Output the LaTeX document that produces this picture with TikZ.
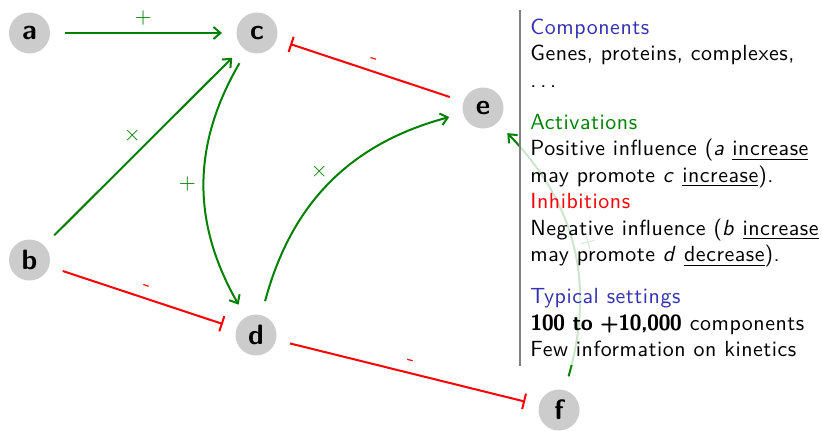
\documentclass[tikz,border=0pt]{standalone}
\usepackage{fontspec}
\usetikzlibrary{arrows.meta}
\newfontfamily\infofont{lmsans10-regular.otf}[ItalicFont=lmsans10-oblique.otf, LetterSpace=2.5]
\newfontfamily\infobold{lmsans10-bold.otf}[LetterSpace=-3]
\definecolor{actgreen}{RGB}{0,128,0}
\definecolor{structblue}{rgb}{0.2,0.2,0.7}
\tikzset{
  gene/.style={circle, fill=black!20, minimum size=20.5pt, inner sep=0pt, outer sep=7.25pt,
    font=\sffamily\bfseries\fontsize{14}{16}\selectfont},
  act/.style={draw=actgreen, line width=1pt, -{Straight Barb[length=3.5pt,width=6pt]}},
  inh/.style={draw=red, line width=1pt, -{Bar[width=8pt]}},
  lbl/.style={sloped, above, font=\sffamily\fontsize{10.95}{13}\selectfont},
  lblplain/.style={font=\sffamily\fontsize{10.95}{13}\selectfont},
  panel/.style={fill=white, fill opacity=0.8, inner sep=0pt, anchor=north west},
  info/.style={anchor=north west, inner sep=0pt, align=left,
    font=\infofont\fontsize{10.95}{13.25}\selectfont},
}
\begin{document}
\begin{tikzpicture}[x=0.5pt,y=0.5pt]
\useasboundingbox (0,0) rectangle (822,-430);
\node[gene] (a) at (29.5,-33) {a};
\node[gene] (c) at (257,-33) {c};
\node[gene] (b) at (29.5,-260) {b};
\node[gene] (d) at (256,-335) {d};
\node[gene] (e) at (483,-108) {e};
\node[gene] (f) at (559,-410) {f};

\draw[act] (a) -- node[lbl, text=actgreen] {+} (c);
\draw[act] (b) -- node[lbl, text=actgreen] {+} (c);
\draw[act] (c) to[bend right=30] node[lblplain, left, text=actgreen] {+} (d);
\draw[act] (d) to[bend left=30] node[lbl, text=actgreen] {+} (e);
\draw[inh] (e) -- node[lbl, text=red] {-} (c);
\draw[inh] (b) -- node[lbl, text=red] {-} (d);
\draw[inh] (d) -- node[lbl, text=red] {-} (f);
\draw[act] (f) to[bend right=30] node[lbl, text=actgreen] {+} (e);

\node[panel, minimum width=151pt, minimum height=177.5pt] (panel) at (520,-10) {};
\draw[gray, line width=0.75pt] (panel.north west) -- (panel.south west);
\node[info] (text) at (530,-18.5) {%
{\color{structblue}Components}\\
Genes, proteins, complexes,\\
.\kern1.9pt.\kern1.9pt.\\[7.75pt]
{\color{actgreen}Activations}\\
Positive influence (\textit{a} \underline{increase}\\
may promote \textit{c} \underline{increase}).\\
{\color{red}Inhibitions}\\
Negative influence (\textit{b} \underline{increase}\\
may promote \textit{d} \underline{decrease}).\\[7.75pt]
{\color{structblue}Typical settings}\\
{\infobold\fontsize{10.95}{13.25}\selectfont 100 to +10,000} components\\
Few information on kinetics};
\end{tikzpicture}
\end{document}
